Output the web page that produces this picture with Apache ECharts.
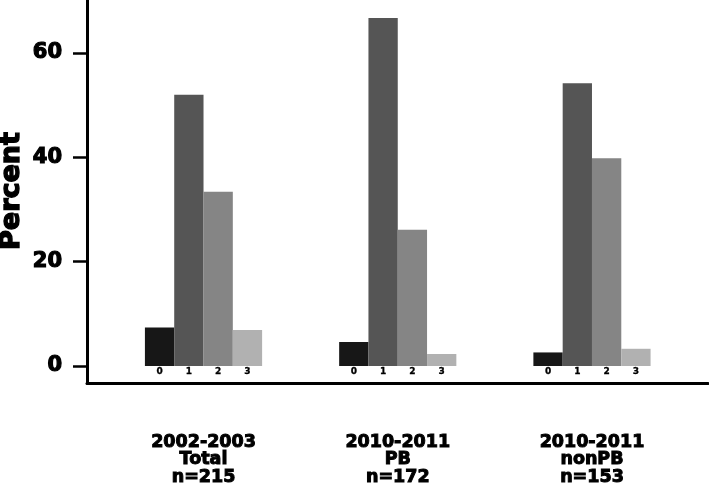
<!DOCTYPE html>
<html>
<head>
<meta charset="utf-8">
<script src="https://cdn.jsdelivr.net/npm/echarts@6/dist/echarts.min.js"></script>
<style>html,body{margin:0;padding:0;background:#fff}#c{width:709px;height:499px}</style>
</head>
<body>
<div id="c"></div>
<script>
var categories = ["2002-2003\nTotal\nn=215", "2010-2011\nPB\nn=172", "2010-2011\nnonPB\nn=153"];
var seriesNames = ["0", "1", "2", "3"];
var values0 = [7.4, 4.6, 2.6];
var values1 = [52.0, 66.7, 54.2];
var values2 = [33.4, 26.1, 39.8];
var values3 = [6.9, 2.3, 3.3];
var yTicks = [0, 20, 40, 60];
var colors = ["#171717", "#555555", "#858585", "#b1b1b1"];

var allValues = [values0, values1, values2, values3];
var font = "DejaVu Sans";

var chart = echarts.init(document.getElementById('c'), null, {renderer: 'canvas'});
var series = allValues.map(function (vals, i) {
  return {
    name: seriesNames[i],
    type: 'bar',
    xAxisIndex: 0,
    yAxisIndex: 0,
    data: vals,
    barWidth: 29.3,
    barGap: '0%',
    itemStyle: {color: colors[i]},
    label: {
      show: true,
      position: 'bottom',
      distance: 1,
      formatter: seriesNames[i],
      fontFamily: font,
      fontWeight: 'bold',
      fontSize: 9,
      color: '#000',
      textBorderColor: '#000',
      textBorderWidth: 0.3
    },
    emphasis: {disabled: true},
    animation: false
  };
});

chart.setOption({
  animation: false,
  grid: [
    {left: 106.4, right: 19.9, top: 0.8, bottom: 133},
    {left: 87, right: 1, top: 0, bottom: 115.5}
  ],
  xAxis: [
    {
      type: 'category', gridIndex: 0, data: categories,
      axisLine: {show: false}, axisTick: {show: false},
      axisLabel: {
        margin: 68, fontFamily: font, fontWeight: 'bold', fontSize: 17.5,
        lineHeight: 17.3, color: '#000', align: 'center',
        textBorderColor: '#000', textBorderWidth: 1
      }
    },
    {
      type: 'value', gridIndex: 1, min: 0, max: 1,
      axisLine: {show: true, lineStyle: {color: '#000', width: 3}},
      axisTick: {show: false}, axisLabel: {show: false}, splitLine: {show: false}
    }
  ],
  yAxis: [
    {
      type: 'value', gridIndex: 0, min: 0, max: 70, interval: 20, offset: 19.4,
      axisLine: {show: false},
      axisTick: {show: true, length: 14, customValues: yTicks, lineStyle: {color: '#000', width: 2.5}},
      axisLabel: {
        customValues: yTicks, margin: 25, fontFamily: font, fontWeight: 'bold',
        fontSize: 21, color: '#000', textBorderColor: '#000', textBorderWidth: 1.2
      },
      splitLine: {show: false}
    },
    {
      type: 'value', gridIndex: 1, min: 0, max: 1,
      axisLine: {show: true, lineStyle: {color: '#000', width: 3}},
      axisTick: {show: false}, axisLabel: {show: false}, splitLine: {show: false}
    }
  ],
  graphic: [
    {
      type: 'text', x: 12, y: 191, rotation: Math.PI / 2,
      style: {
        text: 'Percent', fontFamily: font, fontWeight: 'bold', fontSize: 27,
        fill: '#000', align: 'center', verticalAlign: 'middle',
        stroke: '#000', lineWidth: 1.4
      }
    }
  ],
  series: series
});
</script>
</body>
</html>
